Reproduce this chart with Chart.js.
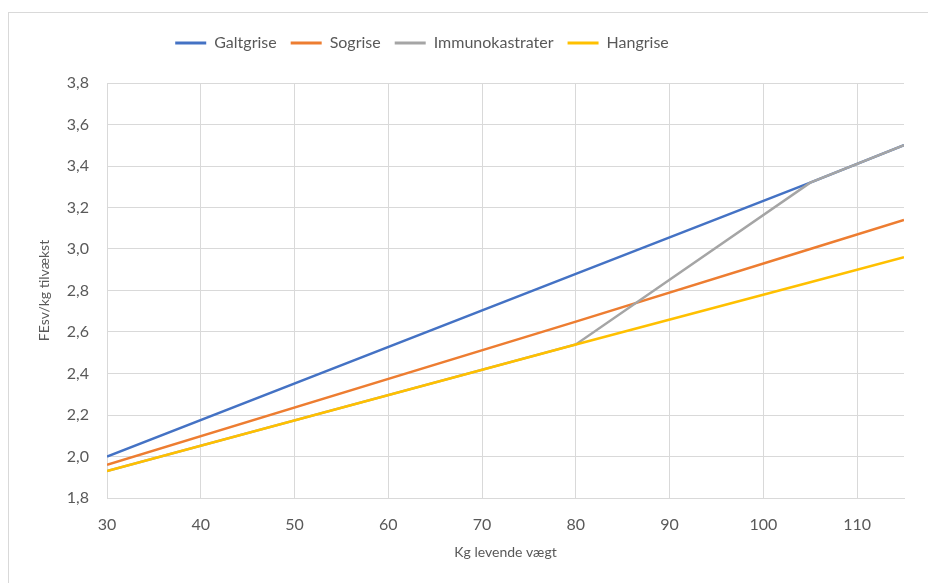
<!DOCTYPE html>
<html>
<head>
<meta charset="utf-8">
<script src="https://cdn.jsdelivr.net/npm/chart.js@4.4.1/dist/chart.umd.min.js"></script>
<style>
  html, body { margin: 0; padding: 0; background: #fff; overflow: hidden; }
  #frame {
    position: absolute; left: 8px; top: 12px;
    width: 960px; height: 620px;
    border: 1px solid #d9d9d9;
  }
  #chart { position: absolute; left: 0; top: 0; }
</style>
</head>
<body>
<div id="frame"></div>
<canvas id="chart" width="928" height="583"></canvas>
<script>
// x-values where the lines break (kg levende vægt)
const weights          = [30, 80, 105, 115];
const galtgrise        = [2.00, 2.88, 3.32, 3.50];
const sogrise          = [1.96, 2.65, 3.00, 3.14];
const immunokastrater  = [1.93, 2.54, 3.32, 3.50];
const hangrise         = [1.93, 2.54, 2.84, 2.96];

const seriesNames  = ['Galtgrise', 'Sogrise', 'Immunokastrater', 'Hangrise'];
const seriesValues = [galtgrise, sogrise, immunokastrater, hangrise];
const seriesColors = ['#4472C4', '#ED7D31', '#A5A5A5', '#FFC000'];
const drawOrder    = [4, 3, 2, 1];   // Hangrise on top, like Excel

const xTicks = [30, 40, 50, 60, 70, 80, 90, 100, 110];
const yMin = 1.8, yMax = 3.8, yStep = 0.2;

const textCol = '#595959';
const gridCol = '#d9d9d9';
const fontFam = 'Lato, "Open Sans", sans-serif';

// Excel centres the legend a bit left of the canvas middle; fix its height too
const fitLegend = {
  id: 'fitLegend',
  beforeInit(chart) {
    const legend = chart.legend;
    const fit  = legend.fit;
    const draw = legend.draw;
    legend.fit = function () {
      fit.bind(this)();
      this.height = 62;
    };
    legend.draw = function () {
      this.ctx.save();
      this.ctx.translate(-48, 0);
      draw.call(this);
      this.ctx.restore();
    };
  },
};

new Chart(document.getElementById('chart'), {
  type: 'line',
  data: {
    datasets: seriesNames.map((name, i) => ({
      label:       name,
      data:        weights.map((w, j) => ({ x: w, y: seriesValues[i][j] })),
      borderColor: seriesColors[i],
      borderWidth: 2.5,
      pointRadius: 0,
      tension:     0,
      fill:        false,
      order:       drawOrder[i],
    })),
  },
  options: {
    responsive: false,
    animation:  false,
    devicePixelRatio: 1,
    layout: { padding: { left: 36, right: 24, top: 21, bottom: 0 } },
    plugins: {
      tooltip: { enabled: false },
      legend: {
        position: 'top',
        labels: {
          color:     textCol,
          font:      { family: fontFam, size: 16 },
          boxWidth:  31,
          boxHeight: 3,
          padding:   14,
          generateLabels: chart => chart.data.datasets.map((ds, i) => ({
            text:        ds.label,
            fillStyle:   ds.borderColor,
            strokeStyle: ds.borderColor,
            lineWidth:   0,
            fontColor:   textCol,
            hidden:      false,
            datasetIndex: i,
          })),
        },
      },
    },
    scales: {
      x: {
        type: 'linear',
        min:  30,
        max:  115,
        afterFit: s => { s.height = 85; },
        afterBuildTicks: s => { s.ticks = xTicks.map(v => ({ value: v })); },
        grid:   { color: gridCol, drawTicks: false },
        border: { color: gridCol },
        ticks:  { color: textCol, padding: 17, font: { family: fontFam, size: 16 } },
        title:  {
          display: true, text: 'Kg levende vægt', color: textCol,
          font: { family: fontFam, size: 14 }, padding: { top: 0, bottom: 22 },
        },
      },
      y: {
        min: yMin,
        max: yMax,
        afterFit: s => { s.width = 71; },
        grid:   { color: gridCol, drawTicks: false },
        border: { color: gridCol },
        ticks:  {
          stepSize: yStep,
          color:    textCol,
          padding:  18,
          font:     { family: fontFam, size: 16 },
          callback: v => v.toFixed(1).replace('.', ','),
        },
        title: {
          display: true, text: 'FEsv/kg tilvækst', color: textCol,
          font: { family: fontFam, size: 14 }, padding: 0,
        },
      },
    },
  },
  plugins: [fitLegend],
});
</script>
</body>
</html>
